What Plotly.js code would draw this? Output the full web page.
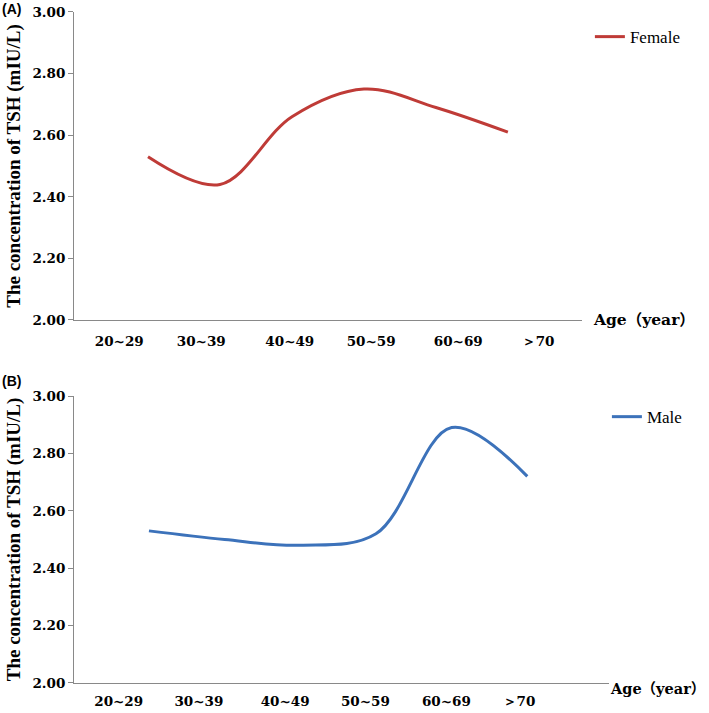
<!DOCTYPE html>
<html>
<head>
<meta charset="utf-8">
<script src="https://cdn.plot.ly/plotly-3.0.1.min.js"></script>
<style>html,body{margin:0;padding:0;background:#fff;}#chart{width:709px;height:713px;}</style>
</head>
<body>
<div id="chart"></div>
<script>
// ---- data ----
const ageGroups = ['20~29', '30~39', '40~49', '50~59', '60~69', '＞70'];
const femaleTSH = [2.53, 2.44, 2.66, 2.75, 2.69, 2.61];
const maleTSH   = [2.53, 2.50, 2.48, 2.52, 2.89, 2.72];
const yTicks = [2.00, 2.20, 2.40, 2.60, 2.80, 3.00];

const idx = ageGroups.map((_, i) => i);

const tickFont = {family: '"DejaVu Serif", serif', size: 13.5, color: '#000'};
const titleFont = {family: '"Liberation Serif", "Times New Roman", serif', size: 19, color: '#000'};
const axisGray = '#898989';

const traces = [
  {x: idx, y: femaleTSH, name: 'Female', type: 'scatter', mode: 'lines',
   line: {color: '#BF3B37', width: 3, shape: 'spline', smoothing: 1},
   xaxis: 'x', yaxis: 'y', legend: 'legend'},
  {x: idx, y: maleTSH, name: 'Male', type: 'scatter', mode: 'lines',
   line: {color: '#3C72BA', width: 3, shape: 'spline', smoothing: 1},
   xaxis: 'x2', yaxis: 'y2', legend: 'legend2'}
];

function yAxis(domain, anchor) {
  return {
    domain: domain, anchor: anchor, range: [2, 3], tickvals: yTicks, tickformat: '.2f',
    showgrid: false, zeroline: false, showline: true, linecolor: axisGray, linewidth: 1,
    ticks: 'outside', ticklen: 5, tickcolor: axisGray, tickfont: {family: '"DejaVu Serif", serif', size: 13.5, color: '#000', weight: 'bold'},
    title: {text: '<b>The concentration of TSH (mIU/L)</b>', font: titleFont, standoff: 6},
    fixedrange: true
  };
}
function xAxis(domain, range, tv, anchor, tl) {
  return {
    domain: domain, range: range, anchor: anchor, tickvals: tv, ticktext: ageGroups.map(s => '<b>' + s + '</b>'),
    showgrid: false, zeroline: false, showline: true, linecolor: axisGray, linewidth: 1,
    ticks: 'outside', ticklen: tl, tickcolor: 'rgba(0,0,0,0)', tickfont: tickFont, fixedrange: true
  };
}

const layout = {
  width: 709, height: 713,
  margin: {l: 0, r: 0, t: 0, b: 0},
  paper_bgcolor: '#fff', plot_bgcolor: 'rgba(0,0,0,0)',
  showlegend: true,
  xaxis: xAxis([0.1044, 0.8209], [-1.028, 6.03], [-0.40, 0.74, 1.97, 3.10, 4.31, 5.42], 'y', 9),
  yaxis: yAxis([0.5512, 0.9832], 'x'),
  xaxis2: xAxis([0.1044, 0.859], [-0.99, 6.08], [-0.40, 0.66, 1.80, 2.86, 3.93, 4.89], 'y2', 6),
  yaxis2: yAxis([0.0421, 0.4446], 'x2'),
  legend: {x: 0.832, y: 0.948, xanchor: 'left', yanchor: 'middle', bgcolor: 'rgba(0,0,0,0)',
           font: {family: '"Liberation Serif", serif', size: 17, color: '#000'}},
  legend2: {x: 0.856, y: 0.415, xanchor: 'left', yanchor: 'middle', bgcolor: 'rgba(0,0,0,0)',
            font: {family: '"Liberation Serif", serif', size: 17, color: '#000'}},
  annotations: [
    {text: '<b>(A)</b>', xref: 'paper', yref: 'paper', x: 0, y: 0.9874, xanchor: 'left', yanchor: 'middle',
     showarrow: false, font: {family: 'Arial, "Liberation Sans", sans-serif', size: 14, color: '#000'}},
    {text: '<b>(B)</b>', xref: 'paper', yref: 'paper', x: 0, y: 0.4656, xanchor: 'left', yanchor: 'middle',
     showarrow: false, font: {family: 'Arial, "Liberation Sans", sans-serif', size: 14, color: '#000'}},
    {text: '<b>Age（year）</b>', xref: 'paper', yref: 'paper', x: 0.8336, y: 0.5512, xanchor: 'left', yanchor: 'middle',
     showarrow: false, font: {family: '"DejaVu Serif", "Noto Sans CJK SC", serif', size: 15.5, color: '#000'}},
    {text: '<b>Age（year）</b>', xref: 'paper', yref: 'paper', x: 0.997, y: 0.035, xanchor: 'right', yanchor: 'middle',
     showarrow: false, font: {family: '"DejaVu Serif", "Noto Sans CJK SC", serif', size: 14.5, color: '#000'}}
  ]
};

Plotly.newPlot('chart', traces, layout, {displayModeBar: false, staticPlot: true});
</script>
</body>
</html>
